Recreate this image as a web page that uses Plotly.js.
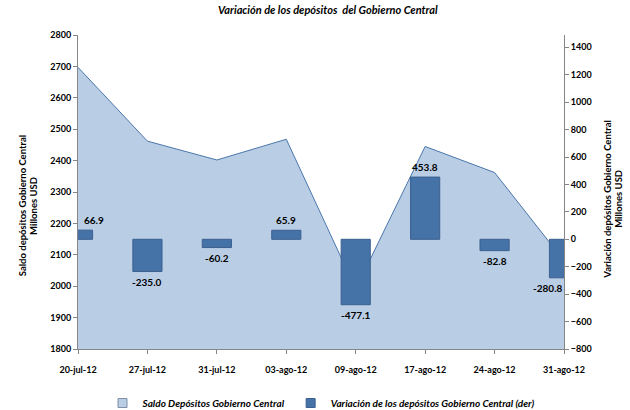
<!DOCTYPE html>
<html>
<head>
<meta charset="utf-8">
<script src="https://cdn.plot.ly/plotly-3.0.1.min.js"></script>
<style>html,body{margin:0;padding:0;background:#fff;}#chart{width:630px;height:410px;}</style>
</head>
<body>
<div id="chart"></div>
<script>
const categories = ["20-jul-12","27-jul-12","31-jul-12","03-ago-12","09-ago-12","17-ago-12","24-ago-12","31-ago-12"];
const saldo = [2697, 2462, 2402, 2468, 1991, 2445, 2362, 2081];
const variacion = [66.9, -235.0, -60.2, 65.9, -477.1, 453.8, -82.8, -280.8];
const leftTicks = [1800,1900,2000,2100,2200,2300,2400,2500,2600,2700,2800];
const rightTicks = [-800,-600,-400,-200,0,200,400,600,800,1000,1200,1400];
const seriesNames = ["Saldo Depósitos Gobierno Central", "Variación de los depósitos Gobierno Central (der)"];
const leftTitleLines = ["Saldo depósitos Gobierno Central", "Millones USD"];
const rightTitleLines = ["Variación depósitos Gobierno Central", "Millones USD"];

const FONT = "Lato, 'Liberation Sans', sans-serif";
const axisColor = "#868686";
const areaFill = "#B9CDE5";
const barColor = "#4572A7";

const traces = [
  {
    type: "scatter", mode: "lines", x: categories, y: saldo,
    name: seriesNames[0], showlegend: false,
    fill: "tozeroy", fillcolor: areaFill,
    line: {color: "#4A76AB", width: 1},
    yaxis: "y", hoverinfo: "skip"
  },
  {
    type: "bar", x: categories, y: variacion,
    name: seriesNames[1], showlegend: false,
    marker: {color: barColor, line: {color: "#3A6090", width: 1}},
    width: 0.42, yaxis: "y2", hoverinfo: "skip"
  },
  {
    type: "scatter", mode: "markers", x: [null], y: [null], name: seriesNames[0],
    marker: {symbol: "square", size: 9, color: areaFill, line: {color: "#7F8FA6", width: 1}},
    hoverinfo: "skip"
  },
  {
    type: "scatter", mode: "markers", x: [null], y: [null], name: seriesNames[1],
    marker: {symbol: "square", size: 9, color: barColor, line: {color: "#3A6090", width: 1}},
    hoverinfo: "skip"
  }
];

const annotations = variacion.map((v, i) => ({
  x: categories[i], y: v, xref: "x", yref: "y2",
  text: v.toFixed(1), showarrow: false,
  yanchor: v >= 0 ? "bottom" : "top",
  yshift: v >= 0 ? 2 : -2,
  xshift: i === 0 ? 16 : (i === variacion.length - 1 ? -16 : 0),
  font: {family: FONT, size: 10, color: "#000", weight: "bold"}
}));

function titleLine(text, x, y) {
  return {
    xref: "paper", yref: "paper", x: x, y: y, text: text,
    showarrow: false, textangle: -90,
    xanchor: "center", yanchor: "middle",
    font: {family: FONT, size: 9.5, color: "#000", weight: "bold"}
  };
}
annotations.push(titleLine(leftTitleLines[0], -0.115, 0.455));
annotations.push(titleLine(leftTitleLines[1], -0.093, 0.455));
annotations.push(titleLine(rightTitleLines[0], 1.090, 0.478));
annotations.push(titleLine(rightTitleLines[1], 1.113, 0.478));

const layout = {
  width: 630, height: 410,
  margin: {l: 78, r: 66, t: 35, b: 61, autoexpand: false},
  paper_bgcolor: "#fff", plot_bgcolor: "rgba(0,0,0,0)",
  font: {family: FONT, size: 9, color: "#000"},
  title: {
    text: "Variación de los depósitos  del Gobierno Central",
    font: {family: FONT, size: 11, color: "#000", weight: "bold", style: "italic"},
    x: 0.514, xref: "paper", xanchor: "center", y: 0.975, yanchor: "middle"
  },
  showlegend: true,
  legend: {
    orientation: "h", x: 0.5, xanchor: "center",
    yref: "container", y: 0.017, yanchor: "middle",
    font: {family: FONT, size: 10, weight: "bold", style: "italic"},
    traceorder: "normal", itemwidth: 30, bgcolor: "rgba(0,0,0,0)"
  },
  xaxis: {
    type: "category", range: [0, categories.length - 1],
    showline: true, linecolor: axisColor, linewidth: 1,
    ticks: "outside", ticklen: 4, tickcolor: axisColor,
    ticklabelstandoff: 8,
    tickfont: {family: FONT, size: 9, weight: "bold"},
    showgrid: false, zeroline: false, fixedrange: true
  },
  yaxis: {
    range: [1800, 2800], tickvals: leftTicks,
    showline: true, linecolor: axisColor, linewidth: 1,
    ticks: "outside", ticklen: 4, tickcolor: axisColor,
    tickfont: {family: FONT, size: 9, weight: "bold"},
    showgrid: false, zeroline: false
  },
  yaxis2: {
    overlaying: "y", side: "right",
    range: [-800, 1490], tickvals: rightTicks,
    showline: true, linecolor: axisColor, linewidth: 1,
    ticks: "outside", ticklen: 4, tickcolor: axisColor,
    tickfont: {family: FONT, size: 9, weight: "bold"},
    showgrid: false, zeroline: false
  },
  annotations: annotations
};

Plotly.newPlot("chart", traces, layout, {displayModeBar: false, staticPlot: true});
</script>
</body>
</html>
